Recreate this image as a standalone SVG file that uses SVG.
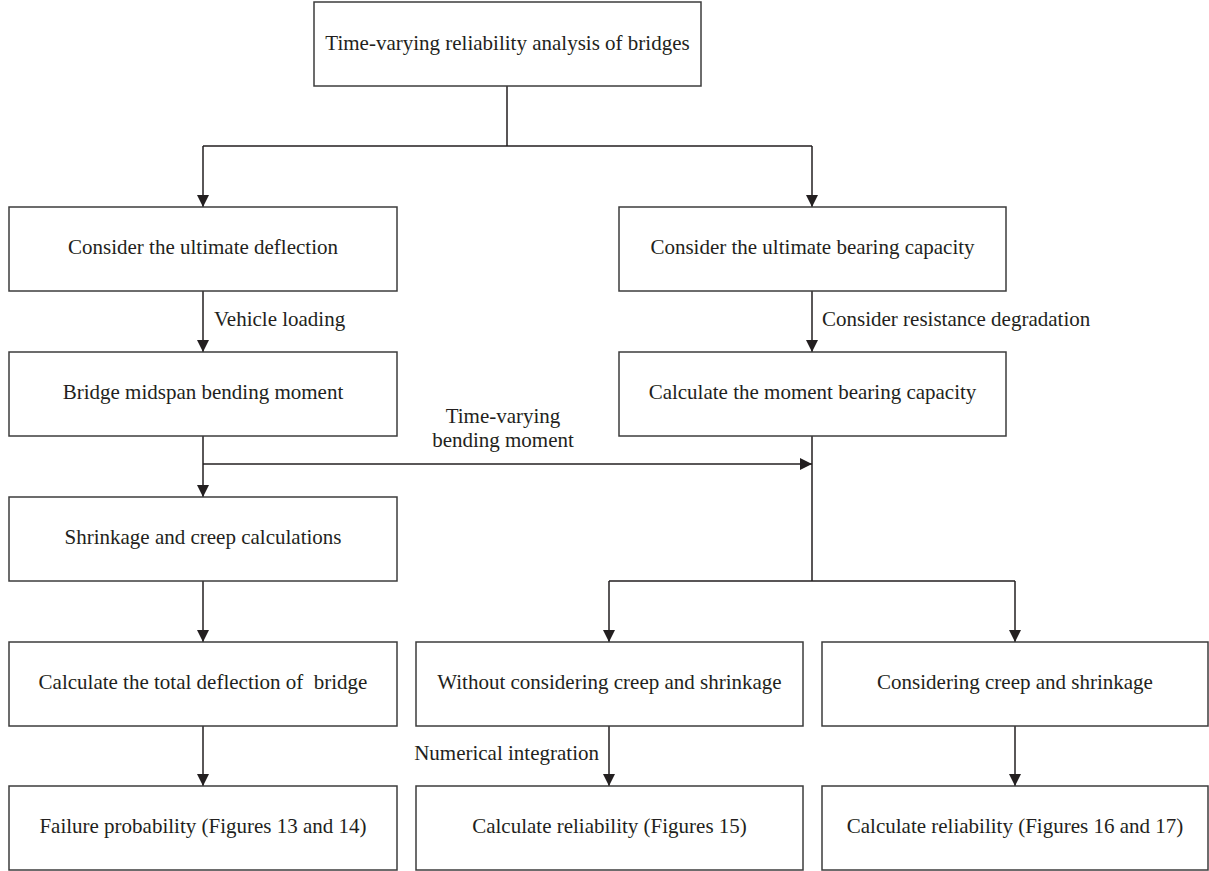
<svg xmlns="http://www.w3.org/2000/svg" width="1209" height="871" viewBox="0 0 1209 871">
<style>
.box{fill:#fff;stroke:#3c3c3c;stroke-width:1.5}
.t{font-family:"Liberation Serif","Times New Roman",serif;font-size:21px;fill:#231f20;text-anchor:middle;white-space:pre}
.l{font-family:"Liberation Serif","Times New Roman",serif;font-size:21px;fill:#231f20}
.c{fill:none;stroke:#231f20;stroke-width:1.5}
</style>
<defs>
<marker id="ah" markerUnits="userSpaceOnUse" markerWidth="12" markerHeight="12" refX="12" refY="6" orient="auto">
<path d="M0,0 L12,6 L0,12 z" fill="#231f20"/>
</marker>
</defs>
<rect width="1209" height="871" fill="#fff"/>
<g id="connectors">
<path class="c" d="M507,86 V146 M203,146 H812"/>
<path class="c" d="M203,146 V207" marker-end="url(#ah)"/>
<path class="c" d="M812,146 V207" marker-end="url(#ah)"/>
<path class="c" d="M203,291 V352" marker-end="url(#ah)"/>
<path class="c" d="M812,291 V352" marker-end="url(#ah)"/>
<path class="c" d="M203,436 V497" marker-end="url(#ah)"/>
<path class="c" d="M203,464 H812" marker-end="url(#ah)"/>
<path class="c" d="M812,436 V581 M609,581 H1015"/>
<path class="c" d="M609,581 V642" marker-end="url(#ah)"/>
<path class="c" d="M1015,581 V642" marker-end="url(#ah)"/>
<path class="c" d="M203,581 V642" marker-end="url(#ah)"/>
<path class="c" d="M203,726 V786" marker-end="url(#ah)"/>
<path class="c" d="M609,726 V786" marker-end="url(#ah)"/>
<path class="c" d="M1015,726 V786" marker-end="url(#ah)"/>
<text class="l" x="214" y="326">Vehicle loading</text>
<text class="l" x="822" y="326">Consider resistance degradation</text>
<text class="t" x="503" y="423">Time-varying</text>
<text class="t" x="503" y="447">bending moment</text>
<text class="l" x="599" y="760" text-anchor="end">Numerical integration</text>
</g>
<g id="n_top"><rect class="box" x="314" y="2" width="387" height="84"/><text class="t" x="507.5" y="50">Time-varying reliability analysis of bridges</text></g>
<g id="n_deflection"><rect class="box" x="9" y="207" width="388" height="84"/><text class="t" x="203" y="254">Consider the ultimate deflection</text></g>
<g id="n_bearing"><rect class="box" x="619" y="207" width="387" height="84"/><text class="t" x="812.5" y="254">Consider the ultimate bearing capacity</text></g>
<g id="n_midspan"><rect class="box" x="9" y="352" width="388" height="84"/><text class="t" x="203" y="399">Bridge midspan bending moment</text></g>
<g id="n_moment"><rect class="box" x="619" y="352" width="387" height="84"/><text class="t" x="812.5" y="399">Calculate the moment bearing capacity</text></g>
<g id="n_shrinkage"><rect class="box" x="9" y="497" width="388" height="84"/><text class="t" x="203" y="544">Shrinkage and creep calculations</text></g>
<g id="n_total"><rect class="box" x="9" y="642" width="388" height="84"/><text class="t" x="203" y="689">Calculate the total deflection of  bridge</text></g>
<g id="n_without"><rect class="box" x="416" y="642" width="387" height="84"/><text class="t" x="609.5" y="689">Without considering creep and shrinkage</text></g>
<g id="n_with"><rect class="box" x="822" y="642" width="386" height="84"/><text class="t" x="1015" y="689">Considering creep and shrinkage</text></g>
<g id="n_failure"><rect class="box" x="9" y="786" width="388" height="84"/><text class="t" x="203" y="833">Failure probability (Figures 13 and 14)</text></g>
<g id="n_rel15"><rect class="box" x="416" y="786" width="387" height="84"/><text class="t" x="609.5" y="833">Calculate reliability (Figures 15)</text></g>
<g id="n_rel1617"><rect class="box" x="822" y="786" width="386" height="84"/><text class="t" x="1015" y="833">Calculate reliability (Figures 16 and 17)</text></g>
</svg>
